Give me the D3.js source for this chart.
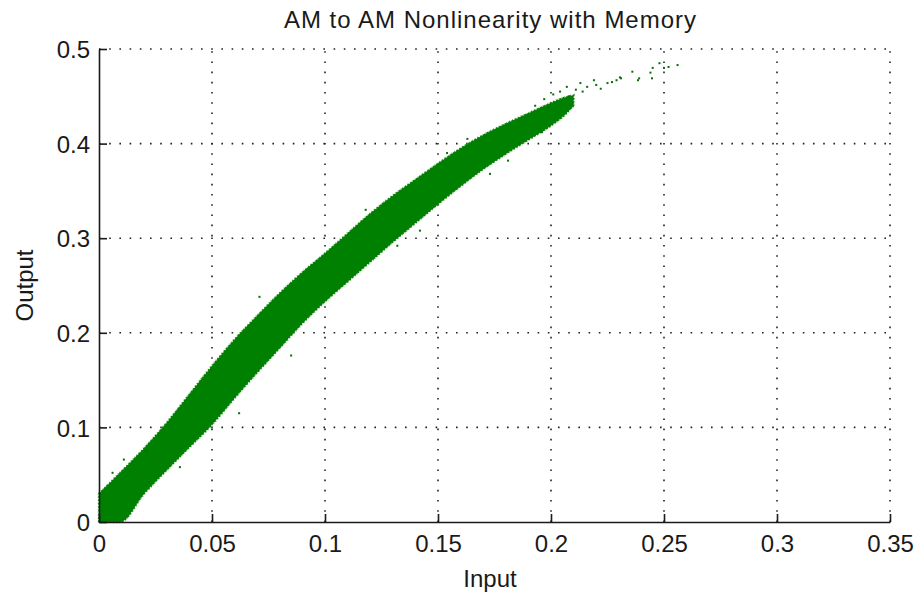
<!DOCTYPE html>
<html>
<head>
<meta charset="utf-8">
<script src="https://cdn.jsdelivr.net/npm/d3@7"></script>
<style>
  body { margin: 0; background: #fff; }
  text { font-family: "Liberation Sans", Arial, sans-serif; fill: #1a1a1a; }
</style>
</head>
<body>
<svg id="chart" width="922" height="602"></svg>
<script>
// Axis ticks
const xTickValues = [0, 0.05, 0.1, 0.15, 0.2, 0.25, 0.3, 0.35];
const xTickLabels = ["0", "0.05", "0.1", "0.15", "0.2", "0.25", "0.3", "0.35"];
const yTickValues = [0, 0.1, 0.2, 0.3, 0.4, 0.5];
const yTickLabels = ["0", "0.1", "0.2", "0.3", "0.4", "0.5"];

// Dense cloud of samples, described by its envelope at a set of input levels
const bandInput  = [0, 0.0093, 0.02, 0.03, 0.04, 0.05, 0.06, 0.07, 0.08, 0.09, 0.1, 0.11, 0.12, 0.13, 0.14, 0.15, 0.16, 0.17, 0.18, 0.19, 0.2, 0.205, 0.21];
const bandUpper  = [0.03, 0.052, 0.078, 0.105, 0.135, 0.165, 0.193, 0.218, 0.242, 0.264, 0.284, 0.305, 0.326, 0.345, 0.362, 0.379, 0.395, 0.409, 0.421, 0.432, 0.443, 0.448, 0.451];
const bandLower  = [0, 0, 0.03, 0.055, 0.079, 0.103, 0.131, 0.158, 0.184, 0.21, 0.233, 0.254, 0.275, 0.296, 0.316, 0.336, 0.355, 0.373, 0.389, 0.404, 0.419, 0.428, 0.44];

// Sparse samples at the high-amplitude end and scattered outliers
const sparseInput  = [0.207, 0.213, 0.219, 0.225, 0.229, 0.231, 0.236, 0.239, 0.244, 0.248, 0.25, 0.252, 0.256, 0.245, 0.227, 0.2305, 0.2385, 0.2447,
                      0.197, 0.201, 0.204, 0.208, 0.211, 0.214, 0.216, 0.22, 0.222, 0.193, 0.199, 0.186, 0.173,
                      0.071, 0.0358, 0.062, 0.118, 0.142, 0.163, 0.181, 0.196, 0.021, 0.085, 0.006, 0.011, 0.154, 0.132];
const sparseOutput = [0.46, 0.464, 0.467, 0.464, 0.467, 0.469, 0.476, 0.469, 0.475, 0.485, 0.48, 0.481, 0.483, 0.48, 0.465, 0.47, 0.467, 0.469,
                      0.447, 0.452, 0.455, 0.45, 0.457, 0.455, 0.46, 0.462, 0.458, 0.44, 0.438, 0.4, 0.368,
                      0.238, 0.058, 0.115, 0.33, 0.308, 0.405, 0.382, 0.412, 0.075, 0.176, 0.052, 0.066, 0.39, 0.292];

const svg = d3.select("#chart");
const x = d3.scaleLinear().domain([0, 0.35]).range([99, 890]);
const y = d3.scaleLinear().domain([0, 0.5]).range([522, 49]);
const ink = "#1a1a1a";

// Dotted grid
const grid = svg.append("g").attr("stroke", "#222").attr("stroke-width", 1.6)
  .attr("stroke-dasharray", "1.6,8.6").attr("fill", "none");
xTickValues.filter(v => v > 0).forEach(v => {
  grid.append("line").attr("x1", x(v)).attr("x2", x(v)).attr("y1", y(0)).attr("y2", y(0.5));
});
yTickValues.filter(v => v > 0).forEach(v => {
  grid.append("line").attr("x1", x(0)).attr("x2", x(0.35)).attr("y1", y(v)).attr("y2", y(v));
});

// Band of samples
const band = d3.area()
  .x((d, i) => x(bandInput[i]))
  .y0((d, i) => y(bandLower[i]))
  .y1((d, i) => y(bandUpper[i]))
  .curve(d3.curveMonotoneX);
// soft speckled rim, then the solid body
svg.append("path").attr("d", band(bandInput))
  .attr("fill", "none").attr("stroke", "#58b858").attr("stroke-width", 3)
  .attr("stroke-dasharray", "1,2").attr("opacity", 0.6);
svg.append("path").attr("d", band(bandInput))
  .attr("fill", "#008000").attr("stroke", "#0a7a0a").attr("stroke-width", 1.4)
  .attr("stroke-dasharray", "2,1.5");

// Sparse samples
svg.append("g").selectAll("rect").data(sparseInput.map((v, i) => [v, sparseOutput[i]]))
  .join("rect")
  .attr("x", d => x(d[0]) - 1).attr("y", d => y(d[1]) - 1)
  .attr("width", 2).attr("height", 2).attr("fill", "#0b6b0b");

// Axes (left and bottom only, inward ticks)
const xAxis = d3.axisBottom(x).tickValues(xTickValues).tickSizeInner(-8).tickSizeOuter(0)
  .tickFormat((d, i) => xTickLabels[i]).tickPadding(14);
const gx = svg.append("g").attr("transform", `translate(0,${y(0)})`).call(xAxis);
const yAxis = d3.axisLeft(y).tickValues(yTickValues).tickSizeInner(-8).tickSizeOuter(0)
  .tickFormat((d, i) => yTickLabels[i]).tickPadding(9);
const gy = svg.append("g").attr("transform", `translate(${x(0)},0)`).call(yAxis);
[gx, gy].forEach(g => {
  g.select(".domain").attr("stroke", ink).attr("stroke-width", 1.6);
  g.selectAll(".tick line").attr("stroke", ink).attr("stroke-width", 1.6);
  g.selectAll(".tick text").attr("font-size", 24).attr("fill", ink)
    .attr("font-family", "'Liberation Sans', Arial, sans-serif");
});
gx.selectAll(".tick text").attr("dy", "0.71em").attr("y", 13);
gy.selectAll(".tick text").attr("dy", "0.36em");

// Titles
svg.append("text").attr("x", 490.5).attr("y", 28).attr("text-anchor", "middle")
  .attr("font-size", 24).attr("letter-spacing", 1).text("AM to AM Nonlinearity with Memory");
svg.append("text").attr("x", 490).attr("y", 587).attr("text-anchor", "middle")
  .attr("font-size", 24).text("Input");
svg.append("text").attr("transform", "translate(33,285.5) rotate(-90)").attr("text-anchor", "middle")
  .attr("font-size", 24).text("Output");
</script>
</body>
</html>
